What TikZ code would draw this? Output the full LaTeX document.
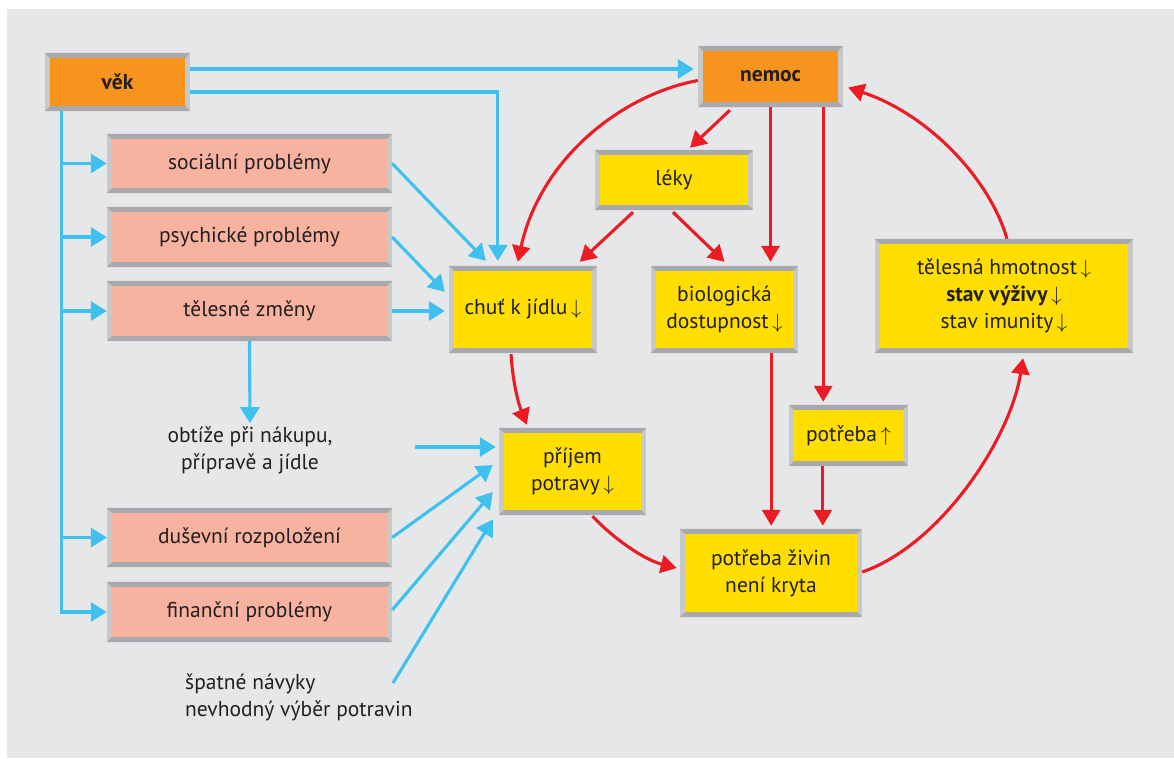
\documentclass[tikz,border=0pt]{standalone}
\usepackage{fontspec}
\setmainfont{PT Sans}
\usetikzlibrary{arrows.meta,calc,backgrounds}
\definecolor{bggray}{HTML}{E6E7E8}
\definecolor{sidegray}{HTML}{C7C8CA}
\definecolor{topgray}{HTML}{A7A9AC}
\definecolor{orangefill}{HTML}{F7941D}
\definecolor{salmonfill}{HTML}{F8B3A0}
\definecolor{yellowfill}{HTML}{FFDE00}
\definecolor{bluec}{HTML}{3EC1EE}
\definecolor{redc}{HTML}{ED1C24}
\definecolor{textc}{HTML}{231F20}
\newcommand\dn{\,$\downarrow$}
\newcommand\upar{\,$\uparrow$}
\newcommand\bevel[2]{%
 \begin{pgfonlayer}{background}
 \fill[sidegray] (#1.north west) rectangle (#1.south east);
 \fill[topgray] (#1.north west) -- (#1.north east) -- ($(#1.north east)+(-5,5)$) -- ($(#1.north west)+(5,5)$) -- cycle;
 \fill[topgray] (#1.south west) -- (#1.south east) -- ($(#1.south east)+(-5,-5)$) -- ($(#1.south west)+(5,-5)$) -- cycle;
 \fill[#2] ($(#1.north west)+(5,5)$) rectangle ($(#1.south east)+(-5,-5)$);
 \end{pgfonlayer}}
\tikzset{
 bx/.style={inner sep=0pt, align=center, text=textc, font=\fontsize{21.5}{27}\selectfont},
 lbl/.style={inner sep=0pt, text=textc, font=\fontsize{21.5}{27}\selectfont},
 barrow/.style={draw=bluec, line width=3.1pt, -{Triangle[length=16pt,width=19pt]}},
 rarrow/.style={draw=redc, line width=3.1pt, -{Triangle[length=16pt,width=18pt]}},
}
\begin{document}
\begin{tikzpicture}[x=1pt,y=-1pt]
\useasboundingbox (0,0) rectangle (1174,758);
\begin{pgfonlayer}{background}
\fill[bggray] (7,9) rectangle (1174,758);
\end{pgfonlayer}
% boxes
\node[bx, minimum width=145pt, minimum height=58pt] (vek) at (117.5,82) {\bfseries věk};
\node[bx, minimum width=145pt, minimum height=61pt] (nemoc) at (770.5,76.5) {\bfseries nemoc};
\node[bx, minimum width=285pt, minimum height=59pt] (soc) at (249.5,163.5) {sociální problémy};
\node[bx, minimum width=285pt, minimum height=60pt] (psy) at (249.5,237) {psychické problémy};
\node[bx, minimum width=285pt, minimum height=60pt] (tel) at (249.5,311) {tělesné změny};
\node[bx, minimum width=285pt, minimum height=59pt] (dus) at (249.5,537.5) {duševní rozpoložení};
\node[bx, minimum width=285pt, minimum height=60pt] (fin) at (249.5,612) {finanční problémy};
\node[bx, minimum width=158pt, minimum height=60pt] (leky) at (674,180) {léky};
\node[bx, minimum width=148pt, minimum height=87pt] (chut) at (523,309.5) {chuť k jídlu\dn};
\node[bx, minimum width=147pt, minimum height=87pt] (bio) at (724.5,309.5) {biologická\\dostupnost\dn};
\node[bx, minimum width=258pt, minimum height=114pt] (stav) at (1004,296) {tělesná hmotnost\dn\\\textbf{stav výživy}\dn\\stav imunity\dn};
\node[bx, minimum width=119pt, minimum height=61pt] (potreba) at (848.5,435.5) {potřeba\upar};
\node[bx, minimum width=147pt, minimum height=87pt] (prijem) at (572.5,471.5) {příjem\\potravy\dn};
\node[bx, minimum width=182pt, minimum height=88pt] (ziv) at (771,573) {potřeba živin\\není kryta};
\bevel{vek}{orangefill}
\bevel{nemoc}{orangefill}
\bevel{soc}{salmonfill}
\bevel{psy}{salmonfill}
\bevel{tel}{salmonfill}
\bevel{dus}{salmonfill}
\bevel{fin}{salmonfill}
\bevel{leky}{yellowfill}
\bevel{chut}{yellowfill}
\bevel{bio}{yellowfill}
\bevel{stav}{yellowfill}
\bevel{potreba}{yellowfill}
\bevel{prijem}{yellowfill}
\bevel{ziv}{yellowfill}
% free texts
\node[lbl, align=center] (obt) at (250,450) {obtíže při nákupu,\\přípravě a jídle};
\node[lbl, align=left, anchor=west] (spat) at (185,697) {špatné návyky\\nevhodný výběr potravin};
% blue connectors
\draw[barrow] ($(vek.east)+(0,-13)$) -- ($(nemoc.west)+(-4,-7.5)$);
\draw[barrow] ($(vek.east)+(0,10)$) -| ($(chut.north west)+(49,-5)$);
\coordinate (sp) at ($(vek.south west)+(17,0)$);
\draw[barrow] (sp) |- (fin.west);
\foreach \n in {soc,psy,tel,dus} \draw[barrow] (sp |- \n.west) -- (\n.west);
\draw[barrow] (soc.east) -- ($(chut.north west)+(37,-5)$);
\draw[barrow] (psy.east) -- ($(chut.north west)+(-4,26)$);
\draw[barrow] (tel.east) -- ($(tel.east -| chut.west)+(-4,0)$);
\draw[barrow, shorten >=3pt] (tel.south) -- (obt.north);
\coordinate (obe) at (415,447);
\draw[barrow] (obe) -- ($(obe -| prijem.west)+(-3,0)$);
\draw[barrow] (dus.east) -- ($(prijem.west)+(-6,-6.5)$);
\draw[barrow] ($(fin.east)+(0,-2)$) -- ($(prijem.west)+(-6,20.5)$);
\coordinate (spe) at (393,683);
\draw[barrow] (spe) -- ($(prijem.west)+(-6,48)$);
% red connectors
\draw[rarrow] ($(nemoc.west)+(0,4)$) .. controls (620,95) and (540,160) .. ($(chut.north west)+(69,-4)$);
\draw[rarrow] ($(nemoc.south west)+(32,3)$) -- ($(leky.north)+(16,-2)$);
\draw[rarrow] ($(leky.south)+(-41,2)$) -- ($(chut.north west)+(131,-4)$);
\draw[rarrow] ($(leky.south)+(-1,2)$) -- ($(bio.north)+(0,-4)$);
\draw[rarrow] (nemoc.south) -- ($(nemoc.south |- bio.north)+(0,-4)$);
\draw[rarrow] ($(nemoc.south east)+(-20,0)$) -- ($(nemoc.south east |- potreba.north)+(-20,-3)$);
\draw[rarrow] ($(bio.south east)+(-27,0)$) -- ($(bio.south east |- ziv.north)+(-27,-3)$);
\draw[rarrow] ($(potreba.south west)+(34,0)$) -- ($(potreba.south west |- ziv.north)+(34,-3)$);
\draw[rarrow] ($(chut.south)+(-12,1)$) .. controls (513,385) and (519,405) .. ($(prijem.north west)+(28,-3)$);
\draw[rarrow] ($(prijem.south)+(20,1)$) .. controls (615,540) and (645,560) .. ($(ziv.west)+(-3,-5)$);
\draw[rarrow] ($(ziv.east)+(0,-1)$) .. controls (940,545) and (1010,440) .. ($(stav.south)+(19,5)$);
\draw[rarrow] ($(stav.north)+(3,0)$) .. controls (990,180) and (930,115) .. ($(nemoc.east)+(5,11)$);
\end{tikzpicture}
\end{document}
